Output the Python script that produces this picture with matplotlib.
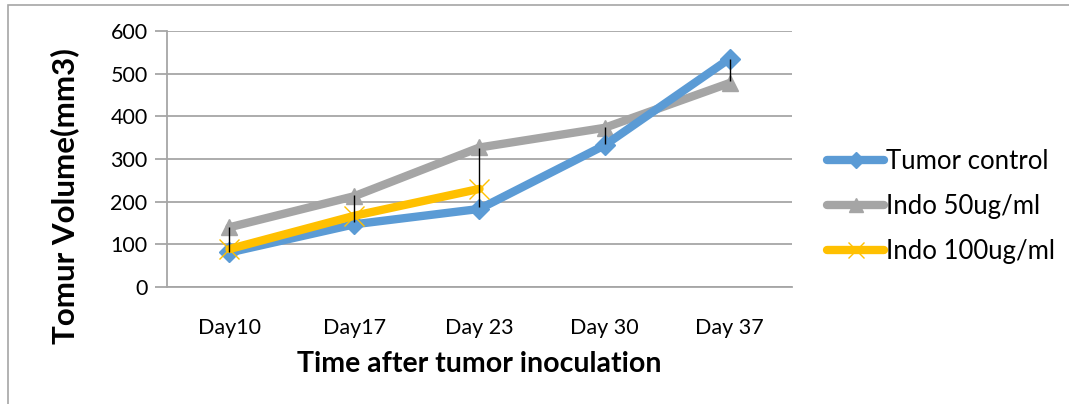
import matplotlib.pyplot as plt
from matplotlib.patches import Rectangle

# data
days = ['Day10', 'Day17', 'Day 23', 'Day 30', 'Day 37']
tumor_control = [81, 147, 183, 332, 535]
indo_50 = [140, 213, 327, 373, 478]
indo_100 = [89, 167, 230]

# error bars (bottom / top)
err_low = [83, 152, 187, 336, 482]
err_high = [140, 215, 325, 374, 535]

plt.rcParams['font.family'] = ['Lato', 'DejaVu Sans']

fig = plt.figure(figsize=(10.69, 4.04), dpi=100)
ax = fig.add_axes([0.1562, 0.2896, 0.5847, 0.6337])

# chart border
fig.patches.append(Rectangle((8 / 1069, -0.1), 1.2, 1.1 - 5 / 404, transform=fig.transFigure,
                             fill=False, edgecolor='#a6a6a6', linewidth=1.2))

x = list(range(len(days)))

ax.plot(x, tumor_control, color='#5b9bd5', linewidth=6, marker='D', markersize=10,
        label='Tumor control', zorder=3, solid_capstyle='round')
ax.plot(x, indo_50, color='#a5a5a5', linewidth=6, marker='^', markersize=12,
        label='Indo 50ug/ml', zorder=2, solid_capstyle='round')
ax.plot(x[:len(indo_100)], indo_100, color='#ffc000', linewidth=6, marker='x', markersize=14,
        markeredgewidth=1, label='Indo 100ug/ml', zorder=4, solid_capstyle='round')

ax.vlines(x, err_low, err_high, color='black', linewidth=1, zorder=5)

ax.set_xlim(-0.5, len(days) - 0.5)
ax.set_ylim(0, 600)
ax.set_yticks(range(0, 601, 100))
ax.set_xticks(x)
ax.set_xticklabels(days)
ax.grid(axis='y', color='#a6a6a6', linewidth=1.3)
ax.set_axisbelow(True)

for s in ['top', 'right']:
    ax.spines[s].set_visible(False)
ax.spines['left'].set_color('#a6a6a6')
ax.spines['bottom'].set_color('#a6a6a6')
ax.spines['left'].set_linewidth(1.3)
ax.spines['bottom'].set_linewidth(1.3)
ax.tick_params(axis='y', length=9, color='#a6a6a6', width=1.3, labelsize=15.5, pad=5)
ax.tick_params(axis='x', length=0, labelsize=15.5, pad=22)

ax.set_xlabel('Time after tumor inoculation', fontsize=20.5, fontweight='bold', labelpad=10)
ax.set_ylabel('Tomur Volume(mm3)', fontsize=22.5, fontweight='bold', va='center')
ax.yaxis.set_label_coords(-0.163, 0.355)

ax.legend(loc='center left', bbox_to_anchor=(1.036, 0.315), frameon=False, fontsize=18.5,
          borderpad=0, handlelength=2.2, handletextpad=0.1, labelspacing=0.78, markerscale=0.8)

fig.savefig('out.png', dpi=100)
